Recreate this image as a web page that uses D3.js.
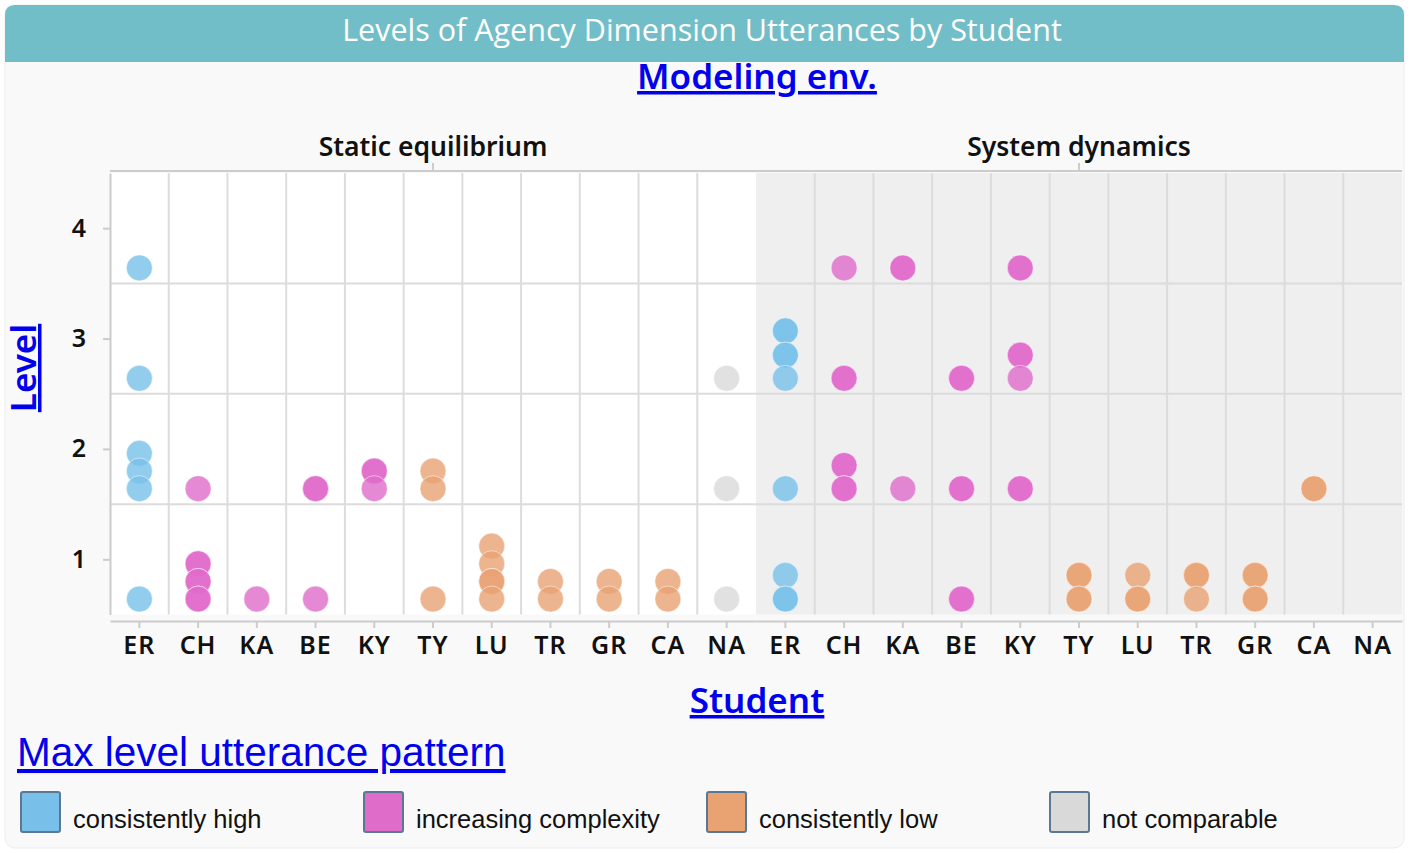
<!DOCTYPE html>
<html>
<head>
<meta charset="utf-8">
<script src="https://cdn.jsdelivr.net/npm/d3@7"></script>
<style>
  body { margin: 0; background: #fff; }
  svg { display: block; }
  .link { fill: #0000ee; text-decoration: underline; }
</style>
</head>
<body>
<svg id="chart" width="1418" height="853"></svg>
<script>
// 데이터
const ENVS = ['Static equilibrium', 'System dynamics'];
const STUDENTS = ['ER', 'CH', 'KA', 'BE', 'KY', 'TY', 'LU', 'TR', 'GR', 'CA', 'NA'];
const LEVEL_TICKS = [1, 2, 3, 4];
const PATTERNS = ['consistently high', 'increasing complexity', 'consistently low', 'not comparable'];
const PATTERN_COLORS = ['#78c0ea', '#e06cca', '#e9a373', '#d9d9d9'];
// student -> pattern
const STUDENT_PATTERN = {
  ER: 'consistently high', CH: 'increasing complexity', KA: 'increasing complexity',
  BE: 'increasing complexity', KY: 'increasing complexity', TY: 'consistently low',
  LU: 'consistently low', TR: 'consistently low', GR: 'consistently low',
  CA: 'consistently low', NA: 'not comparable'
};

// [student, level]  (겹친 점은 두 번)
const staticDots = [
  ['ER', 3.64], ['ER', 2.64], ['ER', 1.96], ['ER', 1.80], ['ER', 1.64], ['ER', 0.64],
  ['CH', 1.64], ['CH', 0.96], ['CH', 0.96], ['CH', 0.80], ['CH', 0.80], ['CH', 0.64], ['CH', 0.64],
  ['KA', 0.64],
  ['BE', 1.64], ['BE', 1.64], ['BE', 0.64],
  ['KY', 1.80], ['KY', 1.80], ['KY', 1.64],
  ['TY', 1.80], ['TY', 1.64], ['TY', 0.64],
  ['LU', 1.12], ['LU', 0.96], ['LU', 0.80], ['LU', 0.80], ['LU', 0.64],
  ['TR', 0.80], ['TR', 0.64],
  ['GR', 0.80], ['GR', 0.64],
  ['CA', 0.80], ['CA', 0.64],
  ['NA', 2.64], ['NA', 1.64], ['NA', 0.64]
];
const dynamicsDots = [
  ['ER', 3.07], ['ER', 3.07], ['ER', 2.85], ['ER', 2.85], ['ER', 2.64], ['ER', 1.64],
  ['ER', 0.855], ['ER', 0.64], ['ER', 0.64],
  ['CH', 3.64], ['CH', 2.64], ['CH', 2.64], ['CH', 1.85], ['CH', 1.85], ['CH', 1.64], ['CH', 1.64],
  ['KA', 3.64], ['KA', 3.64], ['KA', 1.64],
  ['BE', 2.64], ['BE', 2.64], ['BE', 1.64], ['BE', 1.64], ['BE', 0.64], ['BE', 0.64],
  ['KY', 3.64], ['KY', 3.64], ['KY', 2.85], ['KY', 2.85], ['KY', 2.64], ['KY', 1.64], ['KY', 1.64],
  ['TY', 0.855], ['TY', 0.855], ['TY', 0.64], ['TY', 0.64],
  ['LU', 0.855], ['LU', 0.64], ['LU', 0.64],
  ['TR', 0.855], ['TR', 0.855], ['TR', 0.64],
  ['GR', 0.855], ['GR', 0.855], ['GR', 0.64], ['GR', 0.64],
  ['CA', 1.64], ['CA', 1.64]
];
const DOTS_BY_ENV = [staticDots, dynamicsDots];

const svg = d3.select('#chart');
const AXIS_FONT = "'Noto Sans', sans-serif";
const GRID = '#dcdcdc';

// 카드 + 제목 바
svg.append('rect')
  .attr('x', 5).attr('y', 5).attr('width', 1399).attr('height', 843)
  .attr('rx', 10).attr('fill', '#f9f9f9').attr('stroke', '#ececec');
svg.append('path')
  .attr('d', 'M5,62 V15 Q5,5 15,5 H1394 Q1404,5 1404,15 V62 Z')
  .attr('fill', '#72bec8');
svg.append('text')
  .attr('x', 702).attr('y', 41).attr('text-anchor', 'middle')
  .attr('font-family', "'Open Sans', sans-serif").attr('font-size', 30.5)
  .attr('fill', '#fff')
  .text('Levels of Agency Dimension Utterances by Student');

svg.append('text').attr('class', 'link')
  .attr('x', 757).attr('y', 89).attr('text-anchor', 'middle')
  .attr('font-family', AXIS_FONT).attr('font-weight', 600).attr('font-size', 35)
  .text('Modeling env.');

// 스케일
const plotLeft = 110;
const panelW = 646;
const plotTop = 173, plotBottom = 614.5;
const y = d3.scaleLinear().domain([0.5, 4.5]).range([plotBottom, plotTop]);
const color = d3.scaleOrdinal().domain(PATTERNS).range(PATTERN_COLORS);

ENVS.forEach((env, i) => {
  const x0 = plotLeft + i * panelW;
  const x = d3.scaleBand().domain(STUDENTS).range([x0, x0 + panelW]);
  const g = svg.append('g');

  g.append('rect')
    .attr('x', x0).attr('y', plotTop).attr('width', panelW).attr('height', plotBottom - plotTop)
    .attr('fill', i === 0 ? '#fff' : '#efefef');

  // 세로 격자
  g.selectAll('line.vgrid')
    .data(STUDENTS.slice(1))
    .join('line')
    .attr('x1', d => x(d)).attr('x2', d => x(d))
    .attr('y1', plotTop).attr('y2', plotBottom)
    .attr('stroke', GRID).attr('stroke-width', 2);

  // 가로 격자
  g.selectAll('line.hgrid')
    .data(LEVEL_TICKS.slice(0, 3).map(v => v + 0.5))
    .join('line')
    .attr('x1', x0).attr('x2', x0 + panelW)
    .attr('y1', d => y(d)).attr('y2', d => y(d))
    .attr('stroke', GRID).attr('stroke-width', 2);

  // 패널 헤더
  g.append('text')
    .attr('x', x0 + panelW / 2).attr('y', 156).attr('text-anchor', 'middle')
    .attr('font-family', AXIS_FONT).attr('font-weight', 600).attr('font-size', 26.5)
    .attr('fill', '#111').text(env);
  g.append('line')
    .attr('x1', x0 + panelW / 2).attr('x2', x0 + panelW / 2)
    .attr('y1', 163).attr('y2', 171)
    .attr('stroke', '#ccc').attr('stroke-width', 2);

  // 점
  g.selectAll('circle')
    .data(DOTS_BY_ENV[i])
    .join('circle')
    .attr('cx', d => x(d[0]) + x.bandwidth() / 2)
    .attr('cy', d => y(d[1]))
    .attr('r', 13)
    .attr('fill', d => color(STUDENT_PATTERN[d[0]]))
    .attr('fill-opacity', 0.8)
    .attr('stroke', '#fff').attr('stroke-opacity', 0.5).attr('stroke-width', 1);

  // x축
  const xAxis = g.append('g')
    .attr('transform', `translate(0,621)`)
    .call(d3.axisBottom(x).tickSize(7).tickPadding(8).tickSizeOuter(0));
  xAxis.select('.domain').attr('stroke', '#ccc').attr('stroke-width', 2);
  xAxis.selectAll('.tick line').attr('stroke', '#ccc').attr('stroke-width', 2);
  xAxis.selectAll('text')
    .attr('font-family', AXIS_FONT).attr('font-weight', 600).attr('font-size', 25)
    .attr('letter-spacing', 1).attr('fill', '#111');
});

// 헤더 선
svg.append('line')
  .attr('x1', plotLeft).attr('x2', plotLeft + 2 * panelW)
  .attr('y1', 171).attr('y2', 171)
  .attr('stroke', '#ccc').attr('stroke-width', 2);

// y축
const yAxis = svg.append('g')
  .attr('transform', `translate(${plotLeft},0)`)
  .call(d3.axisLeft(y).tickValues(LEVEL_TICKS).tickFormat(d3.format('d'))
    .tickSize(7).tickPadding(17).tickSizeOuter(0));
yAxis.select('.domain').attr('stroke', '#ccc').attr('stroke-width', 2);
yAxis.selectAll('.tick line').attr('stroke', '#ccc').attr('stroke-width', 2);
yAxis.selectAll('text')
  .attr('font-family', AXIS_FONT).attr('font-weight', 600).attr('font-size', 25).attr('fill', '#111');

svg.append('text').attr('class', 'link')
  .attr('transform', 'translate(36,368) rotate(-90)').attr('text-anchor', 'middle')
  .attr('font-family', AXIS_FONT).attr('font-weight', 600).attr('font-size', 35)
  .text('Level');

svg.append('text').attr('class', 'link')
  .attr('x', 757).attr('y', 713).attr('text-anchor', 'middle')
  .attr('font-family', AXIS_FONT).attr('font-weight', 600).attr('font-size', 35)
  .text('Student');

// 범례
svg.append('text').attr('class', 'link')
  .attr('x', 17).attr('y', 766)
  .attr('font-family', "'Liberation Sans', Arial, sans-serif").attr('font-size', 40.5)
  .text('Max level utterance pattern');

const legend = svg.append('g')
  .selectAll('g')
  .data(PATTERNS)
  .join('g')
  .attr('transform', (d, i) => `translate(${21 + i * 343},792)`);
legend.append('rect')
  .attr('width', 39).attr('height', 40).attr('rx', 2)
  .attr('fill', d => color(d))
  .attr('stroke', '#5b7892').attr('stroke-width', 2);
legend.append('text')
  .attr('x', 52).attr('y', 36)
  .attr('font-family', "'Liberation Sans', Arial, sans-serif").attr('font-size', 25.5)
  .attr('fill', '#111')
  .text(d => d);
</script>
</body>
</html>
